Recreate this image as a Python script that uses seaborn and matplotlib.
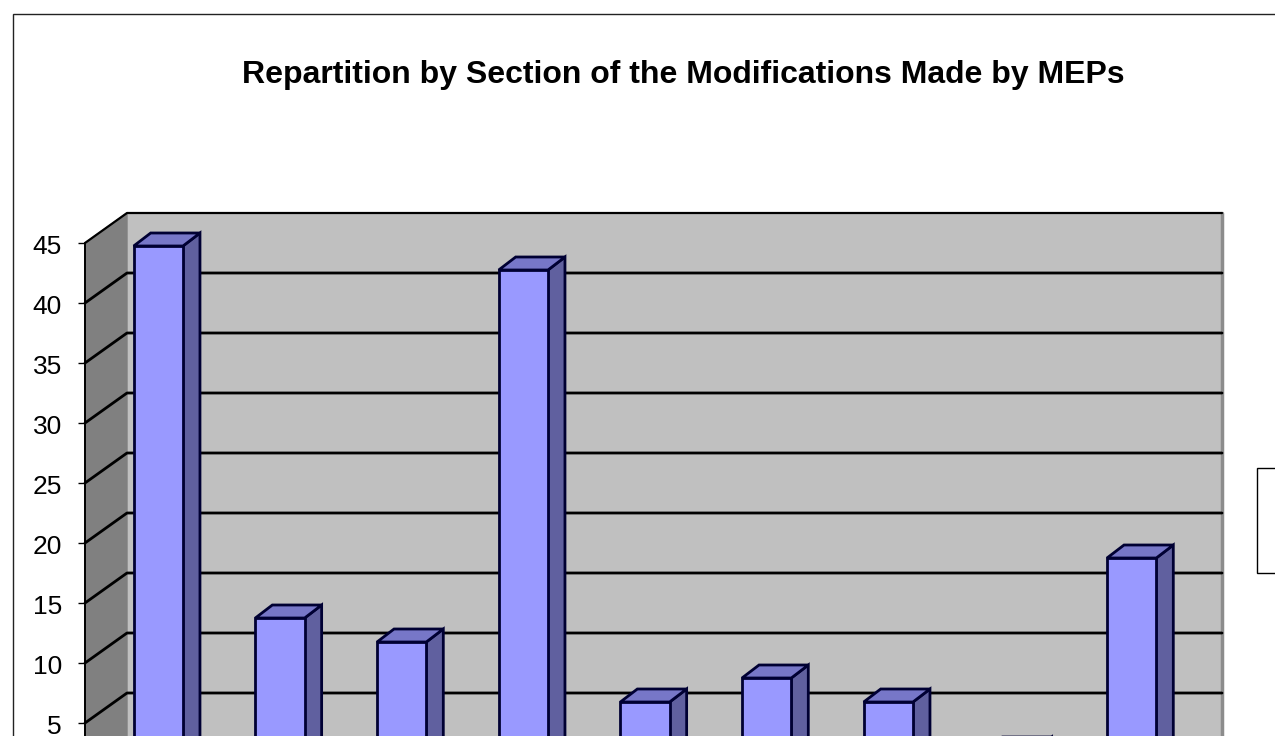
import matplotlib.pyplot as plt
import matplotlib.patches as mpatches
from matplotlib.transforms import Affine2D
import pandas as pd
import seaborn as sns

sections = ['1', '2', '3', '4', '5', '6', '7', '8', '9']
modifications = [44, 13, 11, 42, 6, 8, 6, 2, 18]
y_ticks = [5, 10, 15, 20, 25, 30, 35, 40, 45]
title = 'Repartition by Section of the Modifications Made by MEPs'

W, H = 1275, 736
FACE = '#9999FF'
SIDE = '#60609F'
TOP = '#7777C8'
EDGE = '#000033'

sns.set_style('white')
plt.rcParams['font.family'] = ['Liberation Sans', 'DejaVu Sans']

fig = plt.figure(figsize=(W / 100, H / 100), dpi=100)
# axes is the front plane of the fake 3D box, zero sits below the crop
ax = fig.add_axes([85 / W, (H - 783) / H, 1095 / W, 540 / H])

df = pd.DataFrame({'section': sections, 'modifications': modifications})
sns.barplot(data=df, x='section', y='modifications', color=FACE, saturation=1,
            width=0.405, edgecolor=EDGE, linewidth=2, ax=ax, zorder=5)
bars = list(ax.patches)
ax.set_xlim(-0.5, 8.5)
ax.set_ylim(0, 45)


def shifted(dx, dy):
    return ax.transData + Affine2D().translate(dx, dy)


back = shifted(42, 30)
xl, xr = ax.get_xlim()
ax.fill([xl, xr, xr, xl], [0, 0, 45, 45], color='#C0C0C0', transform=back,
        clip_on=False, zorder=1)
ax.plot([xr, xr], [0, 45], color='#8C8C8C', lw=2.5, transform=back, clip_on=False, zorder=1.5)

# left wall as a parallelogram between front and back planes
px_x = 42 / 1095 * 9
px_y = 30 / 12
ax.fill([xl, xl + px_x, xl + px_x, xl], [0, px_y, 45 + px_y, 45], color='#808080',
        clip_on=False, zorder=1.2)
ax.plot([xl, xl + px_x, xr + px_x], [45, 45 + px_y, 45 + px_y], color='black', lw=1.6,
        clip_on=False, zorder=3)
ax.plot([xl, xl], [0, 45], color='black', lw=1.4, clip_on=False, zorder=3)

for v in y_ticks[:-1]:
    ax.plot([xl, xl + px_x, xr + px_x], [v, v + px_y, v + px_y], color='black', lw=2,
            clip_on=False, zorder=2)

# bars stand part way into the depth of the box
bar_shift = shifted(12.5, 9)
d_x = 17 / 1095 * 9
d_y = 13 / 12
for bar in bars:
    x0, w, h = bar.get_x(), bar.get_width(), bar.get_height()
    bar.set_transform(bar_shift)
    bar.set_clip_on(False)
    ax.fill([x0 + w, x0 + w + d_x, x0 + w + d_x, x0 + w], [0, d_y, h + d_y, h],
            facecolor=SIDE, edgecolor=EDGE, lw=2, transform=bar_shift, clip_on=False, zorder=4)
    ax.fill([x0, x0 + d_x, x0 + w + d_x, x0 + w], [h, h + d_y, h + d_y, h],
            facecolor=TOP, edgecolor=EDGE, lw=2, transform=bar_shift, clip_on=False, zorder=4)

sns.despine(ax=ax, left=True, bottom=True, right=True, top=True)
ax.set_xlabel('')
ax.set_ylabel('')
ax.set_xticks([])
ax.set_yticks(y_ticks)
ax.tick_params(axis='y', left=True, length=5.2, width=1, color='black', pad=11.5, labelsize=19,
               labelcolor='black')
# the labels sit a touch under their ticks in the original
for label in ax.get_yticklabels():
    label.set_transform(label.get_transform() + Affine2D().translate(0, -1))

fig.text(683 / W, 1 - 75 / H, title, ha='center', va='center', fontsize=23.05,
         fontweight='bold', color='black')

# chart frame and the empty legend box, both run off the right edge
fig.add_artist(mpatches.Rectangle((12.5 / W, -0.1), 1.2, 1.1 - 13.5 / H, fill=False,
                                  edgecolor='#222222', lw=1, transform=fig.transFigure))
fig.add_artist(mpatches.Rectangle((1257 / W, 1 - 573 / H), 40 / W, 105 / H, facecolor='white',
                                  edgecolor='black', lw=1, transform=fig.transFigure))

fig.savefig('out.png', dpi=100)
